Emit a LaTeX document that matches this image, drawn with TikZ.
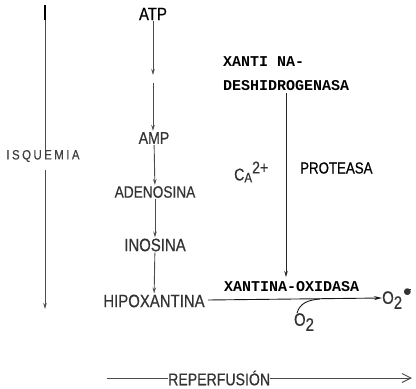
\documentclass[tikz,border=0pt]{standalone}
\usepackage{fontspec}
\usetikzlibrary{arrows.meta}
\newfontfamily\labfont[FakeStretch=0.83,FakeBold=0.5]{Liberation Sans}
\newfontfamily\spfont[FakeStretch=0.85,LetterSpace=18,FakeBold=0.5]{Liberation Sans}
\newfontfamily\xmono{Liberation Mono}
\newcommand{\fsz}[1]{\fontsize{#1}{#1}\selectfont}
\begin{document}
\begin{tikzpicture}[x=1pt,y=-1pt,
  lab/.style={font=\labfont\fsz{17}, text=black!80, inner sep=1pt},
  mon/.style={font=\xmono\bfseries\fsz{15}, inner sep=0pt, anchor=west},
  conn/.style={draw=black!70, line width=0.9pt, -{Stealth[length=6pt,width=3.5pt]}},
  plain/.style={draw=black!70, line width=0.9pt}]
\useasboundingbox (0,0) rectangle (416,389);
% left ISQUEMIA arrow
\node[font=\spfont\fsz{13.5}, text=black!75, inner sep=0pt] (isq) at (43,156) {ISQUEMIA};
\coordinate (ltop) at (45,5);
\coordinate (lbot) at (45,309);
\draw[plain] (ltop) -- (isq.north -| ltop);
\draw[draw=black, line width=1.4pt] (ltop) -- (45,20);
\draw[conn] (isq.south -| lbot) ++(0,8) -- (lbot);
% central column
\node[lab, text=black, font=\labfont\fsz{18}] (atp) at (153,14) {ATP};
\coordinate (mid) at (153,83);
\node[lab, font=\labfont\fsz{17}] (amp) at (154,138) {AMP};
\node[lab, font=\labfont\fsz{16.5}] (ade) at (155,192) {ADENOSINA};
\node[lab, font=\labfont\fsz{18}] (ino) at (155,245) {INOSINA};
\node[lab, font=\labfont\fsz{18}] (hip) at (154,301) {HIPOXANTINA};
\draw[conn] (atp) -- (atp.south |- 0,75);
\draw[conn] (mid) -- (amp.north -| mid);
\draw[conn] (amp) -- (ade);
\draw[conn] (ade) -- (ino);
\draw[conn] (ino) -- (hip);
% xantina deshidrogenasa
\node[mon] (xn1) at (223,62) {XANTI NA-};
\node[mon] (xn2) at (223,86) {DESHIDROGENASA};
\node[mon] (xo) at (224,287) {XANTINA-OXIDASA};
\coordinate (vtop) at (286,93);
\coordinate (vbot) at (286,277);
\draw[conn, draw=black!85] (vtop) -- (vbot);
\node[lab, anchor=west, inner sep=0pt] (ca) at (234,172) {\fsz{17}C\raisebox{-2pt}{\fsz{14}A}\raisebox{7pt}{2+}};
\node[lab, anchor=west, inner sep=0pt, text=black, font=\labfont\fsz{16}] (prot) at (300,168) {PROTEASA};
% main reaction
\node[lab, anchor=west, inner sep=0pt, font=\labfont\fsz{18}] (o2r) at (382,299) {O\raisebox{-5pt}{2}\kern1pt\raisebox{7pt}{$\bullet$}\llap{\raisebox{13.5pt}{\rule{5.5pt}{1pt}}\kern0.4pt}};
\coordinate (hipe) at (208,300);
\draw[conn, draw=black!90, -{Stealth[length=8pt,width=4pt]}] (hipe) -- (o2r.west |- 0,298);
\node[lab, anchor=center, font=\labfont\fsz{18}] (o2) at (304,322) {O\raisebox{-5pt}{2}};
\coordinate (join) at (320,299);
\draw[plain, draw=black!90] (297,313) .. controls (300,303) and (308,300) .. (join);
% reperfusion
\node[lab, anchor=west, inner sep=0pt, font=\labfont\fsz{17}] (rep) at (168,378) {REPERFUSIÓN};
\coordinate (rl) at (107,378);
\coordinate (rr) at (412,378);
\draw[plain] (rl) -- (rep.west);
\draw[plain, -{Straight Barb[length=9pt,width=9pt]}] (rep.east) -- (rr);
\end{tikzpicture}
\end{document}
